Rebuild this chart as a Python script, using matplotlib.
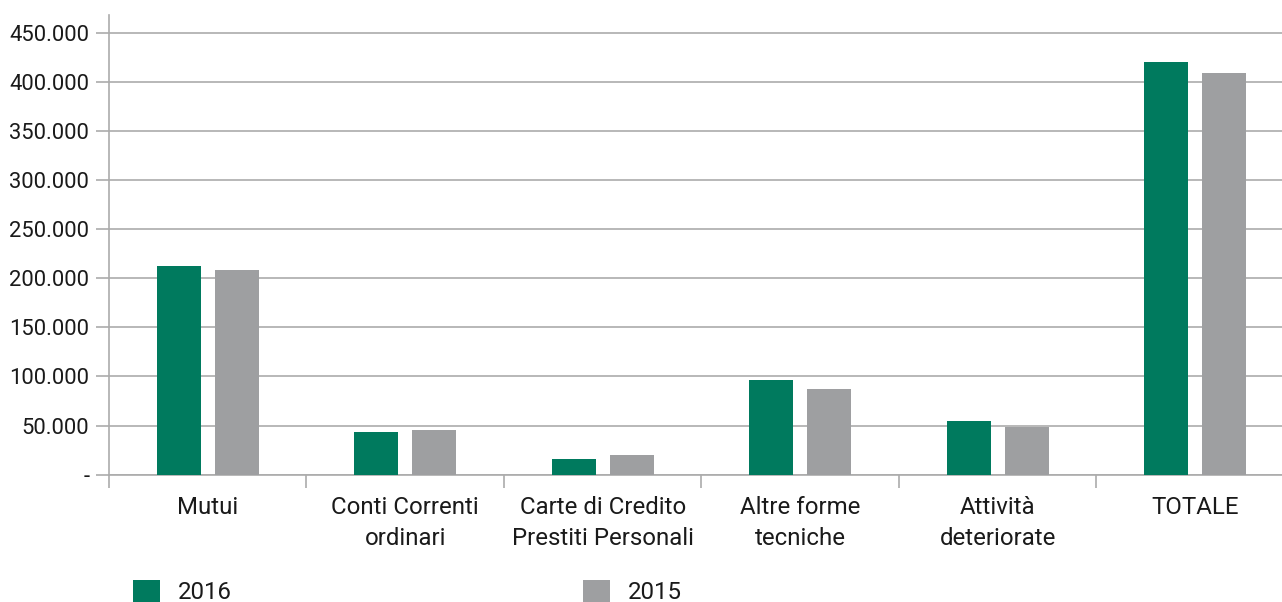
import numpy as np
import matplotlib
matplotlib.use('Agg')
import matplotlib.pyplot as plt
from matplotlib.ticker import FuncFormatter, FixedLocator

plt.rcParams['font.family'] = ['Roboto', 'DejaVu Sans']

categories = ['Mutui', 'Conti Correnti\nordinari', 'Carte di Credito\nPrestiti Personali',
              'Altre forme\ntecniche', 'Attività\ndeteriorate', 'TOTALE']
vals_2016 = [212500, 43500, 16000, 96400, 54700, 420300]
vals_2015 = [208500, 45500, 20000, 87300, 48600, 409000]
series_labels = ['2016', '2015']
yticks = [0, 50000, 100000, 150000, 200000, 250000, 300000, 350000, 400000, 450000]

green = '#007a5e'
grey = '#9e9fa1'
line_col = '#ababab'
txt_col = '#1a1a1a'

def fmt(v, pos):
    if v == 0:
        return '-'
    return '{:,.0f}'.format(v).replace(',', '.')

fig = plt.figure(figsize=(12.82, 6.02), dpi=100)
ax = fig.add_axes([109 / 1282, 1 - 474.7 / 602, 1 - 109 / 1282, (474.7 - 15) / 602])

x = np.arange(len(categories))
w = 0.223
b1 = ax.bar(x - 0.147, vals_2016, w, color=green, zorder=3)
b2 = ax.bar(x + 0.147, vals_2015, w, color=grey, zorder=3)

ax.set_xlim(-0.5, 5.44)
ax.set_ylim(0, 468100)
ax.yaxis.set_major_locator(FixedLocator(yticks))
ax.yaxis.set_major_formatter(FuncFormatter(fmt))
ax.grid(axis='y', color=line_col, linewidth=1.2, zorder=0)

for s in ['top', 'right']:
    ax.spines[s].set_visible(False)
for s in ['left', 'bottom']:
    ax.spines[s].set_color(line_col)
    ax.spines[s].set_linewidth(1.2)

ax.tick_params(axis='y', length=9.4, width=1.2, color=line_col, labelsize=15.8, pad=4.8, labelcolor=txt_col)
ax.set_xticks(x)
ax.set_xticklabels(categories, fontsize=17.3, color=txt_col, linespacing=1.45)
ax.tick_params(axis='x', which='major', length=0, pad=15)
ax.set_xticks(np.arange(len(categories)) - 0.5, minor=True)
ax.tick_params(axis='x', which='minor', length=9.4, width=1.2, color=line_col)

fig.legend([b1, b2], series_labels, loc='center left', bbox_to_anchor=(133 / 1282, 1 - 592 / 602),
           ncol=2, frameon=False, fontsize=17.3, handlelength=1.125, handleheight=1.125,
           handletextpad=0.75, columnspacing=14.6, borderaxespad=0, borderpad=0,
           labelcolor=txt_col)

fig.savefig('out.png', dpi=100)
